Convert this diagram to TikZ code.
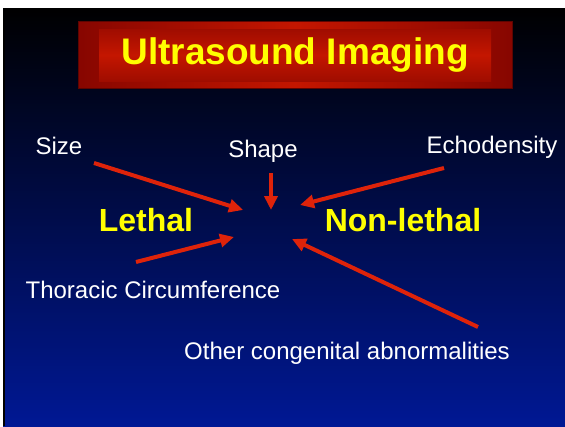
\documentclass[tikz,border=0pt]{standalone}
\usepackage{fontspec}
\setmainfont{Liberation Sans}
\usetikzlibrary{arrows.meta, positioning}

\definecolor{slideblue}{RGB}{0,24,148}
\definecolor{slidenavy}{RGB}{0,10,82}
\definecolor{arrowred}{RGB}{222,35,10}
\definecolor{titlered}{RGB}{196,22,0}
\definecolor{titledark}{RGB}{135,6,0}
\definecolor{titleyellow}{RGB}{255,255,0}

\begin{document}
\begin{tikzpicture}[x=1pt, y=-1pt, >={Triangle[length=14pt, width=13pt]},
    label/.style={text=white, font=\fontsize{24}{28}\selectfont, inner sep=0pt},
    kind/.style={text=titleyellow, font=\bfseries\fontsize{32}{36}\selectfont, inner sep=0pt},
    arrow/.style={->, draw=arrowred, fill=arrowred, line width=4pt}]

    \useasboundingbox (0,0) rectangle (565,426);

    % Fondo
    \fill[white] (0,0) rectangle (565,426);
    \shade[top color=black, middle color=slidenavy, bottom color=slideblue] (3,8) rectangle (565,426);
    \fill[black] (3,8) rectangle (5,426);

    % Titulo
    \node[minimum width=434pt, minimum height=67pt, inner sep=0pt, draw=titledark!70!black,
        left color=titledark, right color=titledark, middle color=titlered] (titlebox) at (295,55) {};
    \node[minimum width=392pt, minimum height=52pt, inner sep=0pt,
        top color=titledark!60!titlered, bottom color=titledark!60!titlered, middle color=titlered] (titleinner) at (titlebox.center) {};
    \node[text=titleyellow, font=\bfseries\fontsize{37}{40}\selectfont, inner sep=0pt] (title) at (titlebox.center) {Ultrasound Imaging};

    % Etiquetas
    \node[label] (size) at (59,146) {Size};
    \node[label] (shape) at (263,151) {Shape};
    \node[label] (echo) at (492,147) {Echodensity};
    \node[label] (thoracic) at (153,290) {Thoracic Circumference};
    \node[label] (other) at (347,353) {Other congenital abnormalities};

    \node[kind] (lethal) at (146,220) {Lethal};
    \node[kind] (nonlethal) at (403,220) {Non-lethal};

    % Extremos de las flechas
    \coordinate (size tail) at (94,163);
    \coordinate (size tip) at (243,210);
    \coordinate (shape tail) at (271,173);
    \coordinate (shape tip) at (271,210);
    \coordinate (thoracic tail) at (136,262);
    \coordinate (thoracic tip) at (234,237);
    \coordinate (echo tail) at (444,168);
    \coordinate (echo tip) at (300,205);
    \coordinate (other tail) at (478,327);
    \coordinate (other tip) at (292,239);

    \path
    (size tail) edge[arrow] (size tip)
    (shape tail) edge[arrow] (shape tip)
    (thoracic tail) edge[arrow] (thoracic tip)
    (echo tail) edge[arrow] (echo tip)
    (other tail) edge[arrow] (other tip);
\end{tikzpicture}
\end{document}
